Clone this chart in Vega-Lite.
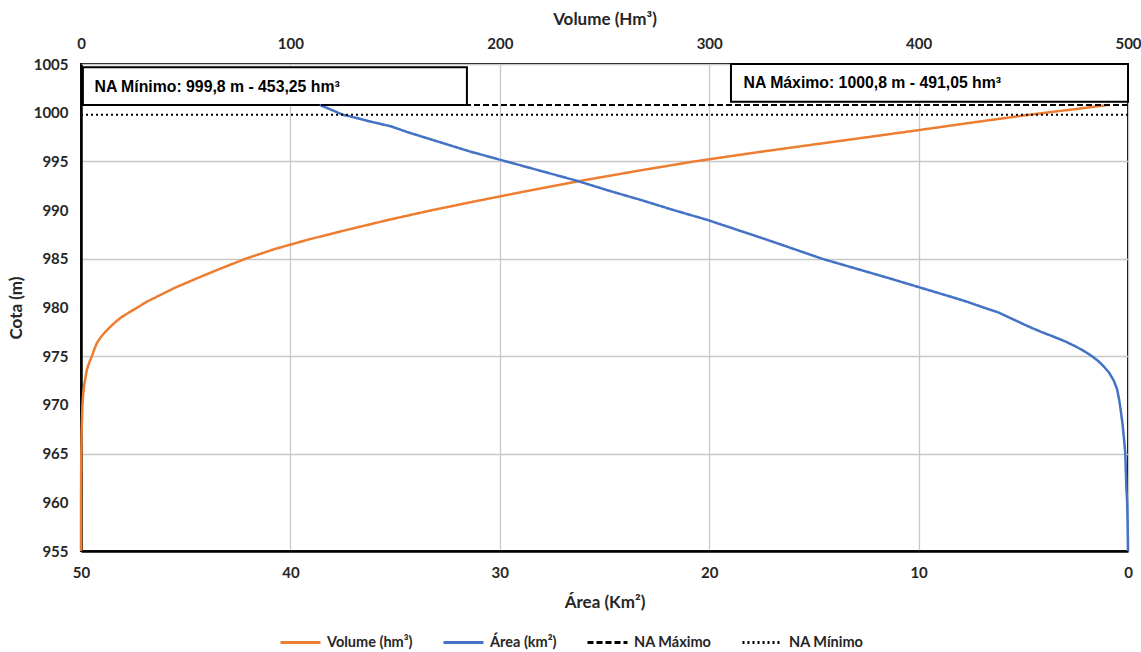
{
  "$schema": "https://vega.github.io/schema/vega-lite/v6.json",
  "width": 1047,
  "height": 487,
  "autosize": {"type": "none"},
  "padding": {"left": 81, "top": 64, "right": 13, "bottom": 101},
  "background": "white",
  "config": {
    "view": {"stroke": "#000000", "strokeWidth": 2},
    "axis": {
      "labelFont": "Lato", "labelFontWeight": "bold", "labelFontSize": 15, "labelColor": "#262626",
      "titleFont": "Lato", "titleFontWeight": "bold", "titleFontSize": 17, "titleColor": "#262626",
      "ticks": false, "gridColor": "#c8c8c8", "gridWidth": 1.3, "labelFlush": false, "labelOverlap": false,
      "domainColor": "#000000", "domainWidth": 2.5
    }
  },
  "datasets": {
    "volume": [
      {"serie": "Volume (hm³)", "cota": 955, "vol": 0},
      {"serie": "Volume (hm³)", "cota": 958, "vol": 0.01},
      {"serie": "Volume (hm³)", "cota": 960, "vol": 0.02},
      {"serie": "Volume (hm³)", "cota": 962, "vol": 0.05},
      {"serie": "Volume (hm³)", "cota": 965, "vol": 0.15},
      {"serie": "Volume (hm³)", "cota": 967, "vol": 0.28},
      {"serie": "Volume (hm³)", "cota": 968, "vol": 0.4},
      {"serie": "Volume (hm³)", "cota": 969, "vol": 0.55},
      {"serie": "Volume (hm³)", "cota": 970, "vol": 0.7},
      {"serie": "Volume (hm³)", "cota": 971, "vol": 1.0},
      {"serie": "Volume (hm³)", "cota": 972, "vol": 1.5},
      {"serie": "Volume (hm³)", "cota": 973, "vol": 2.3},
      {"serie": "Volume (hm³)", "cota": 973.6, "vol": 2.8},
      {"serie": "Volume (hm³)", "cota": 974, "vol": 3.4},
      {"serie": "Volume (hm³)", "cota": 974.5, "vol": 4.2},
      {"serie": "Volume (hm³)", "cota": 975, "vol": 5.2},
      {"serie": "Volume (hm³)", "cota": 975.5, "vol": 6.0},
      {"serie": "Volume (hm³)", "cota": 976, "vol": 6.9},
      {"serie": "Volume (hm³)", "cota": 976.4, "vol": 7.7},
      {"serie": "Volume (hm³)", "cota": 977, "vol": 9.6},
      {"serie": "Volume (hm³)", "cota": 977.5, "vol": 11.6},
      {"serie": "Volume (hm³)", "cota": 978, "vol": 13.9},
      {"serie": "Volume (hm³)", "cota": 978.5, "vol": 16.4},
      {"serie": "Volume (hm³)", "cota": 979, "vol": 19.3},
      {"serie": "Volume (hm³)", "cota": 979.5, "vol": 23},
      {"serie": "Volume (hm³)", "cota": 980, "vol": 26.9},
      {"serie": "Volume (hm³)", "cota": 980.6, "vol": 31.5},
      {"serie": "Volume (hm³)", "cota": 981, "vol": 35.2},
      {"serie": "Volume (hm³)", "cota": 982, "vol": 44.6},
      {"serie": "Volume (hm³)", "cota": 983, "vol": 55.4},
      {"serie": "Volume (hm³)", "cota": 984, "vol": 66.7},
      {"serie": "Volume (hm³)", "cota": 985, "vol": 78.5},
      {"serie": "Volume (hm³)", "cota": 986, "vol": 92.5},
      {"serie": "Volume (hm³)", "cota": 987, "vol": 109},
      {"serie": "Volume (hm³)", "cota": 988, "vol": 127.6},
      {"serie": "Volume (hm³)", "cota": 989, "vol": 146.9},
      {"serie": "Volume (hm³)", "cota": 990, "vol": 167.8},
      {"serie": "Volume (hm³)", "cota": 991, "vol": 190.5},
      {"serie": "Volume (hm³)", "cota": 992, "vol": 214},
      {"serie": "Volume (hm³)", "cota": 993, "vol": 238.5},
      {"serie": "Volume (hm³)", "cota": 994, "vol": 265},
      {"serie": "Volume (hm³)", "cota": 995, "vol": 293},
      {"serie": "Volume (hm³)", "cota": 996, "vol": 325},
      {"serie": "Volume (hm³)", "cota": 997, "vol": 359},
      {"serie": "Volume (hm³)", "cota": 998, "vol": 393},
      {"serie": "Volume (hm³)", "cota": 999, "vol": 426},
      {"serie": "Volume (hm³)", "cota": 999.8, "vol": 453.25},
      {"serie": "Volume (hm³)", "cota": 1000.8, "vol": 491.05}
    ],
    "area": [
      {"serie": "Área (km²)", "cota": 955, "area": 0},
      {"serie": "Área (km²)", "cota": 958, "area": 0.02},
      {"serie": "Área (km²)", "cota": 960, "area": 0.04},
      {"serie": "Área (km²)", "cota": 961.6, "area": 0.08},
      {"serie": "Área (km²)", "cota": 963, "area": 0.1},
      {"serie": "Área (km²)", "cota": 965, "area": 0.13},
      {"serie": "Área (km²)", "cota": 966.5, "area": 0.19},
      {"serie": "Área (km²)", "cota": 968, "area": 0.26},
      {"serie": "Área (km²)", "cota": 969.5, "area": 0.35},
      {"serie": "Área (km²)", "cota": 970.5, "area": 0.42},
      {"serie": "Área (km²)", "cota": 971.6, "area": 0.52},
      {"serie": "Área (km²)", "cota": 972.5, "area": 0.68},
      {"serie": "Área (km²)", "cota": 973.3, "area": 0.9},
      {"serie": "Área (km²)", "cota": 974, "area": 1.18},
      {"serie": "Área (km²)", "cota": 974.5, "area": 1.42},
      {"serie": "Área (km²)", "cota": 975, "area": 1.72},
      {"serie": "Área (km²)", "cota": 975.5, "area": 2.08},
      {"serie": "Área (km²)", "cota": 976, "area": 2.5},
      {"serie": "Área (km²)", "cota": 976.5, "area": 2.98},
      {"serie": "Área (km²)", "cota": 977, "area": 3.55},
      {"serie": "Área (km²)", "cota": 977.5, "area": 4.15},
      {"serie": "Área (km²)", "cota": 978, "area": 4.7},
      {"serie": "Área (km²)", "cota": 978.5, "area": 5.2},
      {"serie": "Área (km²)", "cota": 979, "area": 5.7},
      {"serie": "Área (km²)", "cota": 979.5, "area": 6.2},
      {"serie": "Área (km²)", "cota": 980, "area": 6.9},
      {"serie": "Área (km²)", "cota": 980.6, "area": 7.7},
      {"serie": "Área (km²)", "cota": 981, "area": 8.3},
      {"serie": "Área (km²)", "cota": 982, "area": 9.85},
      {"serie": "Área (km²)", "cota": 983, "area": 11.4},
      {"serie": "Área (km²)", "cota": 984, "area": 13.0},
      {"serie": "Área (km²)", "cota": 985, "area": 14.6},
      {"serie": "Área (km²)", "cota": 986, "area": 15.95},
      {"serie": "Área (km²)", "cota": 987, "area": 17.3},
      {"serie": "Área (km²)", "cota": 988, "area": 18.7},
      {"serie": "Área (km²)", "cota": 989, "area": 20.1},
      {"serie": "Área (km²)", "cota": 990, "area": 21.7},
      {"serie": "Área (km²)", "cota": 991, "area": 23.2},
      {"serie": "Área (km²)", "cota": 992, "area": 24.8},
      {"serie": "Área (km²)", "cota": 993, "area": 26.3},
      {"serie": "Área (km²)", "cota": 994, "area": 28.0},
      {"serie": "Área (km²)", "cota": 995, "area": 29.7},
      {"serie": "Área (km²)", "cota": 996, "area": 31.4},
      {"serie": "Área (km²)", "cota": 997, "area": 32.9},
      {"serie": "Área (km²)", "cota": 998, "area": 34.4},
      {"serie": "Área (km²)", "cota": 998.6, "area": 35.2},
      {"serie": "Área (km²)", "cota": 999, "area": 36.0},
      {"serie": "Área (km²)", "cota": 999.8, "area": 37.5},
      {"serie": "Área (km²)", "cota": 1000.8, "area": 38.6}
    ],
    "na": [
      {"serie": "NA Máximo", "cota": 1000.8},
      {"serie": "NA Mínimo", "cota": 999.8}
    ],
    "boxes": [
      {"vol": 0.9, "vol2": 184.3, "cota": 1000.8, "cota2": 1004.66},
      {"vol": 310.4, "vol2": 500, "cota": 1001.13, "cota2": 1005}
    ],
    "labels": [
      {"vol": 6.45, "cota": 1002.6, "label": "NA Mínimo: 999,8 m - 453,25 hm³"},
      {"vol": 316.4, "cota": 1003.1, "label": "NA Máximo: 1000,8 m - 491,05 hm³"}
    ]
  },
  "encoding": {
    "y": {
      "field": "cota", "type": "quantitative",
      "scale": {"domain": [955, 1005], "nice": false, "zero": false},
      "axis": {
        "title": "Cota (m)", "format": "d",
        "values": [955, 960, 965, 970, 975, 980, 985, 990, 995, 1000, 1005],
        "labelPadding": 13, "titlePadding": 8,
        "gridOpacity": {"condition": {"test": "datum.value % 10 == 5", "value": 1}, "value": 0}
      }
    }
  },
  "layer": [
    {
      "encoding": {
        "x": {
          "field": "vol", "type": "quantitative",
          "scale": {"domain": [0, 500], "nice": false, "zero": false},
          "axis": {"orient": "top", "title": "Volume (Hm³)", "values": [0, 100, 200, 300, 400, 500], "grid": false, "domain": false, "labelPadding": 13, "titlePadding": 8}
        }
      },
      "layer": [
        {
          "data": {"name": "volume"},
          "mark": {"type": "line", "strokeWidth": 2.5},
          "encoding": {
            "order": {"field": "cota", "type": "quantitative"},
            "color": {
              "field": "serie", "type": "nominal",
              "scale": {"domain": ["Volume (hm³)", "Área (km²)", "NA Máximo", "NA Mínimo"], "range": ["#ED7D31", "#4472C4", "#000000", "#000000"]},
              "legend": {"title": null, "orient": "none", "legendX": 198, "legendY": 557, "direction": "horizontal", "symbolType": "stroke", "symbolSize": 1600, "symbolStrokeWidth": 3, "labelFont": "Lato", "labelFontWeight": "bold", "labelFontSize": 14.5, "labelColor": "#262626", "columnPadding": 24, "labelOffset": 5}
            },
            "strokeDash": {
              "field": "serie", "type": "nominal",
              "scale": {"domain": ["Volume (hm³)", "Área (km²)", "NA Máximo", "NA Mínimo"], "range": [[1, 0], [1, 0], [6, 3], [2, 3]]},
              "legend": {"title": null, "orient": "none", "legendX": 198, "legendY": 557, "direction": "horizontal", "symbolType": "stroke", "symbolSize": 1600, "symbolStrokeWidth": 3, "labelFont": "Lato", "labelFontWeight": "bold", "labelFontSize": 14.5, "labelColor": "#262626", "columnPadding": 24, "labelOffset": 5}
            }
          }
        },
        {
          "data": {"name": "boxes"},
          "mark": {"type": "rect", "fill": "#ffffff", "stroke": "#000000", "strokeWidth": 2},
          "encoding": {
            "x2": {"field": "vol2"},
            "y2": {"field": "cota2"}
          }
        },
        {
          "data": {"name": "labels"},
          "mark": {"type": "text", "align": "left", "baseline": "middle", "font": "Liberation Sans", "fontSize": 15.8, "fontWeight": "bold", "color": "#000000"},
          "encoding": {
            "text": {"field": "label", "type": "nominal"}
          }
        }
      ]
    },
    {
      "data": {"name": "area"},
      "mark": {"type": "line", "strokeWidth": 2.5},
      "encoding": {
        "x": {
          "field": "area", "type": "quantitative",
          "scale": {"domain": [0, 50], "reverse": true, "nice": false, "zero": false},
          "axis": {"orient": "bottom", "title": "Área (Km²)", "values": [0, 10, 20, 30, 40, 50], "grid": true, "labelPadding": 14, "titlePadding": 14}
        },
        "order": {"field": "cota", "type": "quantitative"},
        "color": {
          "field": "serie", "type": "nominal",
          "scale": {"domain": ["Volume (hm³)", "Área (km²)", "NA Máximo", "NA Mínimo"], "range": ["#ED7D31", "#4472C4", "#000000", "#000000"]},
          "legend": {"title": null, "orient": "none", "legendX": 198, "legendY": 557, "direction": "horizontal", "symbolType": "stroke", "symbolSize": 1600, "symbolStrokeWidth": 3, "labelFont": "Lato", "labelFontWeight": "bold", "labelFontSize": 14.5, "labelColor": "#262626", "columnPadding": 24, "labelOffset": 5}
        },
        "strokeDash": {
          "field": "serie", "type": "nominal",
          "scale": {"domain": ["Volume (hm³)", "Área (km²)", "NA Máximo", "NA Mínimo"], "range": [[1, 0], [1, 0], [6, 3], [2, 3]]},
          "legend": {"title": null, "orient": "none", "legendX": 198, "legendY": 557, "direction": "horizontal", "symbolType": "stroke", "symbolSize": 1600, "symbolStrokeWidth": 3, "labelFont": "Lato", "labelFontWeight": "bold", "labelFontSize": 14.5, "labelColor": "#262626", "columnPadding": 24, "labelOffset": 5}
        }
      }
    },
    {
      "data": {"name": "na"},
      "mark": {"type": "rule", "strokeWidth": 2},
      "encoding": {
        "color": {
          "field": "serie", "type": "nominal",
          "scale": {"domain": ["Volume (hm³)", "Área (km²)", "NA Máximo", "NA Mínimo"], "range": ["#ED7D31", "#4472C4", "#000000", "#000000"]},
          "legend": {"title": null, "orient": "none", "legendX": 198, "legendY": 557, "direction": "horizontal", "symbolType": "stroke", "symbolSize": 1600, "symbolStrokeWidth": 3, "labelFont": "Lato", "labelFontWeight": "bold", "labelFontSize": 14.5, "labelColor": "#262626", "columnPadding": 24, "labelOffset": 5}
        },
        "strokeDash": {
          "field": "serie", "type": "nominal",
          "scale": {"domain": ["Volume (hm³)", "Área (km²)", "NA Máximo", "NA Mínimo"], "range": [[1, 0], [1, 0], [6, 3], [2, 3]]},
          "legend": {"title": null, "orient": "none", "legendX": 198, "legendY": 557, "direction": "horizontal", "symbolType": "stroke", "symbolSize": 1600, "symbolStrokeWidth": 3, "labelFont": "Lato", "labelFontWeight": "bold", "labelFontSize": 14.5, "labelColor": "#262626", "columnPadding": 24, "labelOffset": 5}
        }
      }
    }
  ],
  "resolve": {"scale": {"x": "independent"}}
}
